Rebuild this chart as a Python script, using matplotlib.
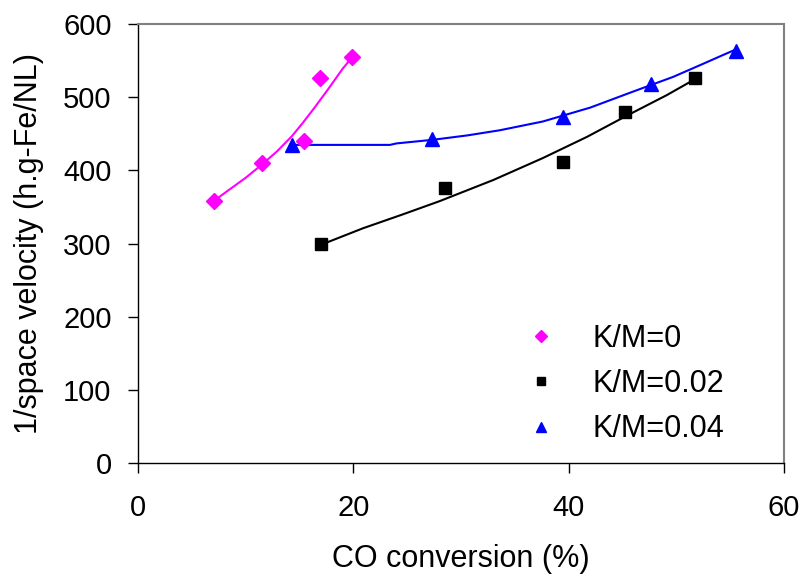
import matplotlib
matplotlib.use("Agg")
import matplotlib.pyplot as plt

plt.rcParams['font.family'] = ['Liberation Sans', 'DejaVu Sans']

# Measured points
km0_x = [7.1, 11.5, 15.4, 16.9, 19.9]
km0_y = [358, 410, 441, 527, 555]
km002_x = [17.0, 28.5, 39.5, 45.2, 51.7]
km002_y = [299, 376, 411, 480, 526]
km004_x = [14.3, 27.3, 39.5, 47.6, 55.5]
km004_y = [435, 443, 473, 518, 564]

# Trend lines
fit0_x = [7.1, 8.5, 10.0, 11.5, 12.9, 14.3, 15.3, 16.4, 17.7, 19.0, 19.9]
fit0_y = [359, 374, 390, 408, 426, 447, 465, 486, 512, 539, 555]
fit002_x = [17.1, 20.9, 24.6, 28.0, 33.0, 37.6, 41.7, 45.4, 49.1, 51.5]
fit002_y = [299, 321, 340, 358, 387, 417, 446, 475, 503, 523]
fit004_x = [14.3, 23.4, 24.0, 27.4, 30.6, 33.6, 37.6, 42.0, 46.0, 49.7, 52.5, 54.5, 55.6]
fit004_y = [435, 435, 437, 442, 448, 455, 467, 486, 508, 528, 546, 559, 566]

labels = ["K/M=0", "K/M=0.02", "K/M=0.04"]
x_ticks = [0, 20, 40, 60]
y_ticks = [0, 100, 200, 300, 400, 500, 600]

fig = plt.figure(figsize=(8.05, 5.77), dpi=100)
ax = fig.add_axes([0.1714, 0.1976, 0.8026, 0.7604])

ax.plot(fit0_x, fit0_y, color='#FF00FF', lw=1.5)
ax.plot(fit002_x, fit002_y, color='black', lw=1.5)
ax.plot(fit004_x, fit004_y, color='#0000FF', lw=1.5)

ax.plot(km0_x, km0_y, 'D', color='#FF00FF', ms=8, ls='none', label=labels[0])
ax.plot(km002_x, km002_y, 's', color='black', ms=8.5, ls='none', label=labels[1])
ax.plot(km004_x, km004_y, '^', color='#0000FF', ms=10, ls='none', label=labels[2])

ax.set_xlim(0, 60)
ax.set_ylim(0, 600)
ax.set_xticks(x_ticks)
ax.set_yticks(y_ticks)
ax.tick_params(direction='out', length=7, width=1, labelsize=21)
ax.tick_params(axis='y', pad=12)
ax.tick_params(axis='x', pad=15)
for s in ['top', 'right']:
    ax.spines[s].set_color('#808080')
    ax.spines[s].set_linewidth(1.5)
for s in ['left', 'bottom']:
    ax.spines[s].set_color('black')
    ax.spines[s].set_linewidth(1)

ax.set_xlabel('CO conversion (%)', fontsize=22, labelpad=16)
ax.set_ylabel('1/space velocity (h.g-Fe/NL)', fontsize=22, labelpad=14)

ax.legend(loc='lower right', frameon=False, fontsize=22, markerscale=0.75,
          handlelength=1.0, handletextpad=1.2, labelspacing=0.5,
          bbox_to_anchor=(0.95, -0.02))

fig.savefig('out.png', dpi=100)
